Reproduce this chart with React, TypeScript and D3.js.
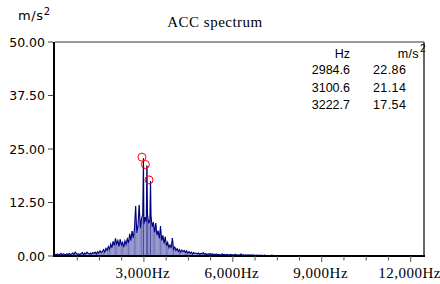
import * as d3 from 'd3';

const stepHz = 40;
const amplitude = [
  0.4, 0.3, 0.5, 0.2, 0.4, 0.6, 0.3, 0.5, 0.4, 0.3,
  0.5, 0.4, 0.6, 0.3, 0.5, 0.7, 0.4, 0.9, 0.6, 0.4,
  0.5, 0.3, 0.6, 0.8, 0.4, 0.7, 0.5, 0.9, 0.6, 0.4,
  0.7, 0.5, 0.8, 0.6, 0.9, 0.5, 1.0, 0.7, 1.2, 0.8,
  1.1, 1.5, 0.9, 1.8, 1.3, 2.2, 1.6, 2.8, 1.9, 3.4,
  2.4, 4.1, 2.8, 3.6, 2.2, 3.9, 2.6, 3.2, 2.0, 3.5,
  2.7, 4.0, 3.1, 5.2, 3.6, 5.8, 4.2, 6.3, 11.7, 5.4,
  7.2, 11.9, 6.5, 8.8, 9.6, 7.4, 9.1, 8.0, 9.8, 7.6,
  8.4, 9.2, 6.8, 7.9, 5.5, 7.7, 4.8, 5.9, 4.1, 7.0,
  3.6, 4.8, 2.9, 4.5, 2.4, 3.2, 2.0, 2.6, 1.8, 4.2,
  1.6, 2.1, 1.3, 1.7, 1.1, 1.5, 0.9, 1.4, 1.0, 1.3,
  0.8, 1.2, 0.7, 1.0, 0.6, 0.9, 0.5, 0.8, 0.6, 0.7,
  0.5, 0.7, 0.4, 0.6, 0.5, 0.8, 0.4, 0.6, 0.3, 0.5,
  0.4, 0.6, 0.3, 0.5, 0.4, 0.3, 0.5, 0.3, 0.4, 0.3,
  0.3, 0.5, 0.3, 0.4, 0.2, 0.4, 0.3, 0.2, 0.4, 0.3,
  0.3, 0.2, 0.4, 0.2, 0.3, 0.2, 0.3, 0.5, 0.2, 0.3,
  0.2, 0.3, 0.2, 0.3, 0.2, 0.2, 0.3, 0.2, 0.2, 0.1,
  0.2, 0.1, 0.2, 0.1, 0.2, 0.1, 0.1, 0.2, 0.1, 0.1,
  0.1, 0.1, 0.1, 0.2, 0.1, 0.1, 0.1, 0.1, 0.1, 0.1,
  0.1, 0.1, 0.0, 0.1, 0.0, 0.1, 0.0, 0.0, 0.1, 0.0,
  0.0,
];

// marked peaks
const peakHz = [2984.6, 3100.6, 3222.7];
const peakAmp = [22.86, 21.14, 17.54];

const yTicks = [0, 12.5, 25, 37.5, 50];
const xTicks = [3000, 6000, 9000, 12000];
const xMinorStep = 750;

const W = 440;
const H = 284;
const left = 55;
const right = 424;
const top = 42;
const bottom = 256;

export default function App() {
  const x = d3.scaleLinear().domain([0, 12450]).range([left, right]);
  const y = d3.scaleLinear().domain([0, 50]).range([bottom, top]);

  const pts: [number, number][] = amplitude.map((a, i) => [i * stepHz, a]);
  peakHz.forEach((f, i) => pts.push([f, peakAmp[i]]));
  pts.sort((a, b) => a[0] - b[0]);

  const line = d3
    .line<[number, number]>()
    .x(d => x(d[0]))
    .y(d => y(d[1]));

  const minor = d3.range(xMinorStep, 12450, xMinorStep);
  const sans = 'DejaVu Sans, sans-serif';
  const narrow = 'Liberation Sans, Arial, sans-serif';
  const serif = 'Liberation Serif, Times New Roman, serif';

  return (
    <svg
      width={W}
      height={H}
      style={{ position: 'absolute', left: 0, top: 0, background: '#fff' }}
    >
      <text x={215} y={27} textAnchor="middle" fontFamily={serif} fontSize={15} letterSpacing={0.5}>
        ACC spectrum
      </text>
      <text x={18} y={20} fontFamily={sans} fontSize={13} letterSpacing={0.6}>
        m/s<tspan dy={-5} fontSize={10}>2</tspan>
      </text>

      {/* spectrum */}
      {pts.map((d, i) => (
        <line
          key={i}
          x1={x(d[0])}
          x2={x(d[0])}
          y1={y(0)}
          y2={y(d[1])}
          stroke="#000080"
          strokeWidth={0.55}
        />
      ))}
      <path d={line(pts) ?? ''} fill="none" stroke="#000080" strokeWidth={1.1} />

      {peakHz.map((f, i) => (
        <circle
          key={f}
          cx={x(f) - 1.5}
          cy={y(peakAmp[i]) - 1}
          r={4}
          fill="none"
          stroke="#ff0000"
          strokeWidth={1}
        />
      ))}

      {/* frame */}
      <line x1={left} x2={right} y1={top} y2={top} stroke="#333" strokeWidth={1} />
      <line x1={right} x2={right} y1={top} y2={bottom} stroke="#333" strokeWidth={1.5} />
      <line x1={left - 1} x2={left - 1} y1={top} y2={bottom + 1} stroke="#000" strokeWidth={2} />
      <line x1={left - 2} x2={right + 1} y1={bottom} y2={bottom} stroke="#000" strokeWidth={2} />

      {yTicks.map(t => (
        <g key={t}>
          <line x1={48} x2={left - 2} y1={y(t)} y2={y(t)} stroke="#444" />
          <text
            x={45}
            y={y(t) + 4.5}
            textAnchor="end"
            fontFamily={sans}
            fontSize={12.5}
          >
            {t.toFixed(2)}
          </text>
        </g>
      ))}

      {minor.map(t => (
        <line
          key={t}
          x1={x(t)}
          x2={x(t)}
          y1={bottom}
          y2={bottom + (xTicks.includes(t) ? 6 : 4.5)}
          stroke="#555"
        />
      ))}
      {xTicks.map(t => (
        <text
          key={t}
          x={x(t) - 1}
          y={278}
          textAnchor="middle"
          fontFamily={serif}
          fontSize={15}
          letterSpacing={0.5}
        >
          {d3.format(',')(t)}Hz
        </text>
      ))}

      {/* peak table */}
      <text x={350} y={58} textAnchor="end" fontFamily={narrow} fontSize={12.5}>
        Hz
      </text>
      <text x={419} y={58} textAnchor="end" fontFamily={narrow} fontSize={12.5} letterSpacing={0.4}>
        m/s
      </text>
      <text x={420} y={52} fontFamily={narrow} fontSize={10}>
        2
      </text>
      {peakHz.map((f, i) => (
        <g key={f}>
          <text x={350} y={74 + i * 17.5} textAnchor="end" fontFamily={narrow} fontSize={12.5}>
            {f.toFixed(1)}
          </text>
          <text x={373} y={74 + i * 17.5} fontFamily={narrow} fontSize={12.5} letterSpacing={0.4}>
            {peakAmp[i].toFixed(2)}
          </text>
        </g>
      ))}
    </svg>
  );
}
